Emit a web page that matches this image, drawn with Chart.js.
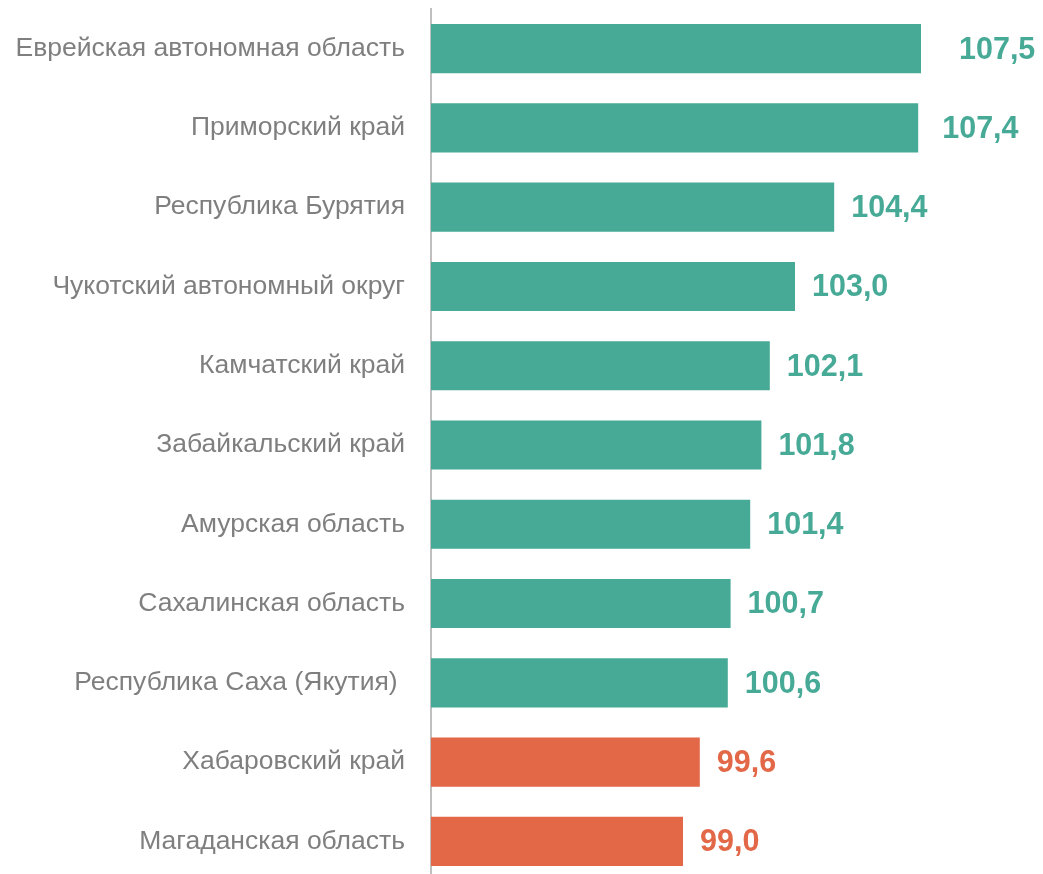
<!DOCTYPE html>
<html>
<head>
<meta charset="utf-8">
<script src="https://cdn.jsdelivr.net/npm/chart.js@4/dist/chart.umd.min.js"></script>
<style>
  html, body { margin: 0; padding: 0; background: #fff; overflow: hidden; }
  #wrap { width: 1043px; height: 881px; }
</style>
</head>
<body>
<div id="wrap"><canvas id="regionsChart"></canvas></div>
<script>
const regions = [
    'Еврейская автономная область',
    'Приморский край',
    'Республика Бурятия',
    'Чукотский автономный округ',
    'Камчатский край',
    'Забайкальский край',
    'Амурская область',
    'Сахалинская область',
    'Республика Саха (Якутия) ',
    'Хабаровский край',
    'Магаданская область'
];
const values = [107.5, 107.4, 104.4, 103.0, 102.1, 101.8, 101.4, 100.7, 100.6, 99.6, 99.0];
const baseline = 100;

const TEAL = '#47aa96';
const ORANGE = '#e26848';
const colors = values.map(v => v >= baseline ? TEAL : ORANGE);

// the top two labels sit a bit further from their bars in the original
const labelGap = 17;
const extraGap = { 0: 21, 1: 7 };

// value labels to the right of each bar
const valueLabels = {
    id: 'valueLabels',
    afterDatasetsDraw(chart) {
        const ctx = chart.ctx;
        const meta = chart.getDatasetMeta(0);
        ctx.save();
        ctx.font = 'bold 30.5px "Liberation Sans", Arial, sans-serif';
        ctx.textBaseline = 'middle';
        ctx.textAlign = 'left';
        meta.data.forEach((bar, i) => {
            ctx.fillStyle = colors[i];
            const gap = labelGap + (extraGap[i] || 0);
            ctx.fillText(values[i].toFixed(1).replace('.', ','), bar.x + gap, bar.y + 1.5);
        });
        ctx.restore();
    }
};

const ctx = document.getElementById('regionsChart').getContext('2d');
new Chart(ctx, {
    type: 'bar',
    data: {
        labels: regions,
        datasets: [{
            data: values,
            backgroundColor: colors,
            borderWidth: 0,
            barPercentage: 0.62,
            categoryPercentage: 1
        }]
    },
    options: {
        indexAxis: 'y',
        responsive: true,
        maintainAspectRatio: false,
        animation: false,
        layout: { padding: { top: 9, right: 52, bottom: 0, left: 0 } },
        scales: {
            x: {
                min: 90,
                max: 110,
                display: false
            },
            y: {
                afterFit(scale) {
                    scale.width = 431;
                    scale.paddingTop = 0;
                    scale.paddingBottom = 0;
                },
                grid: { display: false, drawTicks: false },
                border: { display: true, color: '#bfbfbf', width: 2 },
                ticks: {
                    color: '#7f7f7f',
                    padding: 26,
                    font: { family: '"Liberation Sans", Arial, sans-serif', size: 26.5 }
                }
            }
        },
        plugins: {
            legend: { display: false },
            tooltip: { enabled: false }
        }
    },
    plugins: [valueLabels]
});
</script>
</body>
</html>
